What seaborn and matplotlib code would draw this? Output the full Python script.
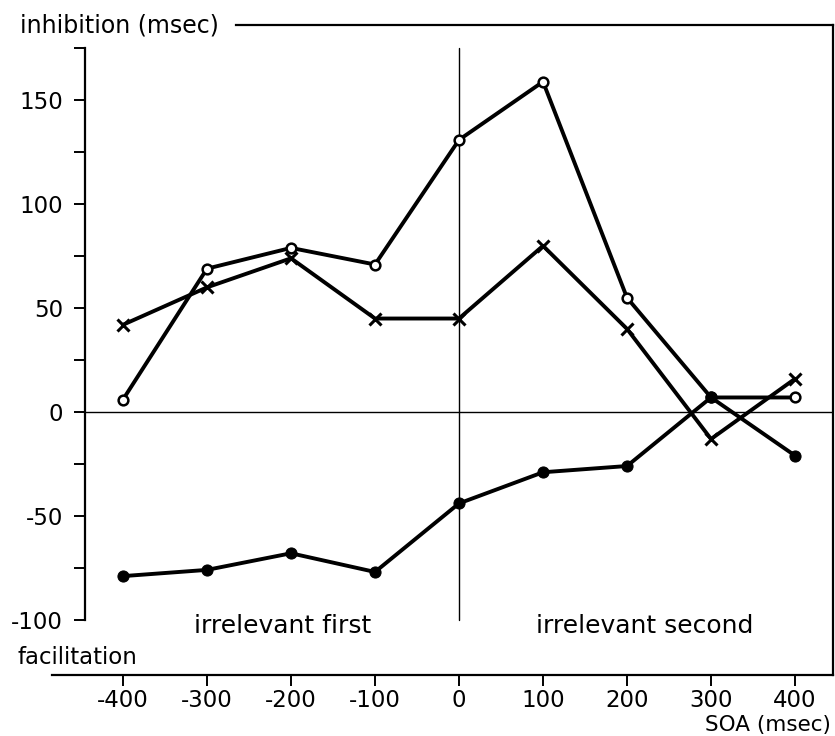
import matplotlib
matplotlib.use('Agg')

import matplotlib.pyplot as plt
import numpy as np
import pandas as pd
import seaborn as sns

# values (msec)
soa = [-400, -300, -200, -100, 0, 100, 200, 300, 400]
open_circles = [6, 69, 79, 71, 131, 159, 55, 7, 7]
crosses = [42, 60, 74, 45, 45, 80, 40, -13, 16]
filled_circles = [-79, -76, -68, -77, -44, -29, -26, 7, -21]

x_ticks = [-400, -300, -200, -100, 0, 100, 200, 300, 400]
y_ticks = [-100, -50, 0, 50, 100, 150]
y_minor = [-75, -25, 25, 75, 125, 175]

sns.set_theme(style='white')
plt.rcParams['font.family'] = ['DejaVu Sans']
plt.rcParams['text.color'] = 'black'

df = pd.DataFrame({
    'soa': soa * 3,
    'value': open_circles + crosses + filled_circles,
    'series': ['open'] * 9 + ['cross'] * 9 + ['filled'] * 9,
})

fig = plt.figure(figsize=(8.35, 7.36), dpi=100)
ax = fig.add_axes([52 / 835, 1 - 675 / 736, (833 - 52) / 835, (675 - 25) / 736])

styles = {
    'open': dict(marker='o', markersize=7, markerfacecolor='white',
                 markeredgecolor='black', markeredgewidth=1.8),
    'cross': dict(marker='x', markersize=8, markeredgecolor='black',
                  markeredgewidth=2.2),
    'filled': dict(marker='o', markersize=8, markerfacecolor='black',
                   markeredgecolor='black'),
}
for name, sub in df.groupby('series', sort=False):
    sns.lineplot(data=sub, x='soa', y='value', color='black', linewidth=2.8,
                 ax=ax, legend=False, zorder=3, **styles[name])

# reference lines
ax.plot([-445, 445], [0, 0], color='black', linewidth=1.0, zorder=2)
ax.plot([0, 0], [-100, 175], color='black', linewidth=1.0, zorder=2)

ax.set_xlim(-484.5, 445.2)
ax.set_ylim(-126.6, 186.3)

ax.spines['left'].set_position(('data', -445))
ax.spines['left'].set_bounds(-100, 175)
ax.spines['top'].set_bounds(-266, 445.2)
for side in ['left', 'top', 'right', 'bottom']:
    ax.spines[side].set_color('black')
    ax.spines[side].set_linewidth(1.6)

ax.set_xticks(x_ticks)
ax.set_xticklabels([str(t) for t in x_ticks])
ax.set_yticks(y_ticks)
ax.set_yticklabels([str(t) for t in y_ticks])
ax.set_yticks(y_minor, minor=True)
ax.tick_params(axis='both', which='both', direction='out', length=8,
               width=1.4, color='black', labelsize=16.5, labelcolor='black')
ax.tick_params(axis='x', which='both', bottom=True, pad=2)
ax.tick_params(axis='y', which='both', left=True, pad=8)
ax.set_xlabel('')
ax.set_ylabel('')
ax.grid(False)

fig.text(20 / 835, 1 - 25 / 736, 'inhibition (msec)', fontsize=17,
         va='center', ha='left')
fig.text(17 / 835, 1 - 657 / 736, 'facilitation', fontsize=16.5,
         va='center', ha='left')
fig.text(831 / 835, 1 - 725 / 736, 'SOA (msec)', fontsize=15.5,
         va='center', ha='right')
ax.text(-210, -103, 'irrelevant first', fontsize=18, ha='center', va='center')
ax.text(221, -103, 'irrelevant second', fontsize=18, ha='center', va='center')

fig.savefig('out.png', dpi=100)
plt.close()
